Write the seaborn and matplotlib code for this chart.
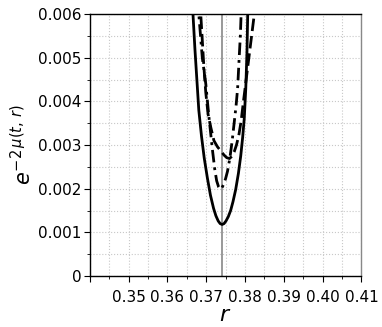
import matplotlib
matplotlib.use("Agg")
import matplotlib.pyplot as plt
import seaborn as sns
from matplotlib.ticker import MultipleLocator

# solid curve
solid_r = [0.3662, 0.3666, 0.3671, 0.3676, 0.3681, 0.3688, 0.3695, 0.3703, 0.3711,
           0.3719, 0.3725, 0.3731, 0.3736, 0.3741, 0.3746, 0.3751, 0.3757, 0.3763,
           0.3769, 0.3776, 0.3783, 0.3789, 0.3794, 0.3798, 0.3802, 0.3805, 0.3807, 0.3809]
solid_y = [0.0066, 0.0060, 0.0052, 0.0045, 0.0038, 0.0032, 0.0027, 0.00225, 0.00185,
           0.00155, 0.00138, 0.00126, 0.00120, 0.00118, 0.00120, 0.00126, 0.00136, 0.00150,
           0.00170, 0.00198, 0.00235, 0.00275, 0.00318, 0.00360, 0.00430, 0.00510, 0.00600, 0.0066]

# dash-dot curve
dashdot_r = [0.3680, 0.3681, 0.3690, 0.3699, 0.3707, 0.3716, 0.3722, 0.3727, 0.3732,
             0.3736, 0.3740, 0.3745, 0.3750, 0.3755, 0.3761, 0.3767, 0.3772, 0.3777,
             0.3781, 0.3785, 0.3788, 0.3790, 0.3791]
dashdot_y = [0.0066, 0.0060, 0.0050, 0.0044, 0.00365, 0.0029, 0.00245, 0.00218, 0.00204,
             0.00199, 0.00201, 0.00210, 0.00223, 0.0024, 0.0027, 0.0031, 0.0035, 0.0039,
             0.0043, 0.0050, 0.0055, 0.0060, 0.0066]

# dashed curve
dashed_r = [0.3684, 0.3686, 0.3690, 0.3694, 0.3699, 0.3705, 0.3712, 0.3720, 0.3729,
            0.3738, 0.3746, 0.3753, 0.3760, 0.3766, 0.3772, 0.3778, 0.3784, 0.3790,
            0.3796, 0.3803, 0.3810, 0.3817, 0.3824, 0.3827]
dashed_y = [0.0066, 0.0060, 0.0054, 0.0048, 0.0042, 0.0037, 0.0034, 0.0031, 0.00296,
            0.00286, 0.00277, 0.00271, 0.00269, 0.00274, 0.00284, 0.00300, 0.00322, 0.00355,
            0.0040, 0.0045, 0.0050, 0.0055, 0.0060, 0.0066]

vline_r = 0.374

x_ticks = [0.34, 0.35, 0.36, 0.37, 0.38, 0.39, 0.40, 0.41]
x_labels = ["", "0.35", "0.36", "0.37", "0.38", "0.39", "0.40", "0.41"]
y_ticks = [0, 0.001, 0.002, 0.003, 0.004, 0.005, 0.006]
y_labels = ["0", "0.001", "0.002", "0.003", "0.004", "0.005", "0.006"]

sns.set_style("ticks")
plt.rcParams['font.family'] = ['DejaVu Sans']

fig = plt.figure(figsize=(3.82, 3.27), dpi=100)
ax = fig.add_axes([0.2348, 0.156, 0.7115, 0.801])

ax.grid(True, which="both", linestyle=":", color="#c8c8c8", linewidth=0.8)
ax.set_axisbelow(True)

ax.axvline(vline_r, color="#999999", linewidth=1.4, zorder=2)

sns.lineplot(x=solid_r, y=solid_y, ax=ax, color="black", linewidth=2.0,
             estimator=None, sort=False, zorder=3)
sns.lineplot(x=dashdot_r, y=dashdot_y, ax=ax, color="black", linewidth=2.0,
             linestyle=(0, (4.5, 1.8, 1.0, 1.8)), estimator=None, sort=False, zorder=3)
sns.lineplot(x=dashed_r, y=dashed_y, ax=ax, color="black", linewidth=2.0,
             linestyle=(0, (4.5, 1.8)), estimator=None, sort=False, zorder=3)

ax.set_xlim(0.34, 0.41)
ax.set_ylim(0, 0.006)
ax.set_xticks(x_ticks)
ax.set_xticklabels(x_labels)
ax.set_yticks(y_ticks)
ax.set_yticklabels(y_labels)
ax.xaxis.set_minor_locator(MultipleLocator(0.005))
ax.yaxis.set_minor_locator(MultipleLocator(0.0005))
ax.tick_params(axis="both", which="major", labelsize=11, length=4, width=0.8,
               colors="black")
ax.tick_params(axis="x", which="major", pad=6)
ax.tick_params(axis="y", which="major", pad=2)
ax.tick_params(axis="both", which="minor", length=2.5, width=0.6, colors="black")

for side in ["left", "bottom", "top"]:
    ax.spines[side].set_color("black")
    ax.spines[side].set_linewidth(1.0)
ax.spines["right"].set_color("#888888")
ax.spines["right"].set_linewidth(1.0)

ax.set_xlabel(r"$r$", fontsize=16, labelpad=0, color="black")
ax.set_ylabel(r"$e^{-2\,\mu(t,\,r)}$", fontsize=15, labelpad=2, color="black")

fig.savefig("out.png", dpi=100)
